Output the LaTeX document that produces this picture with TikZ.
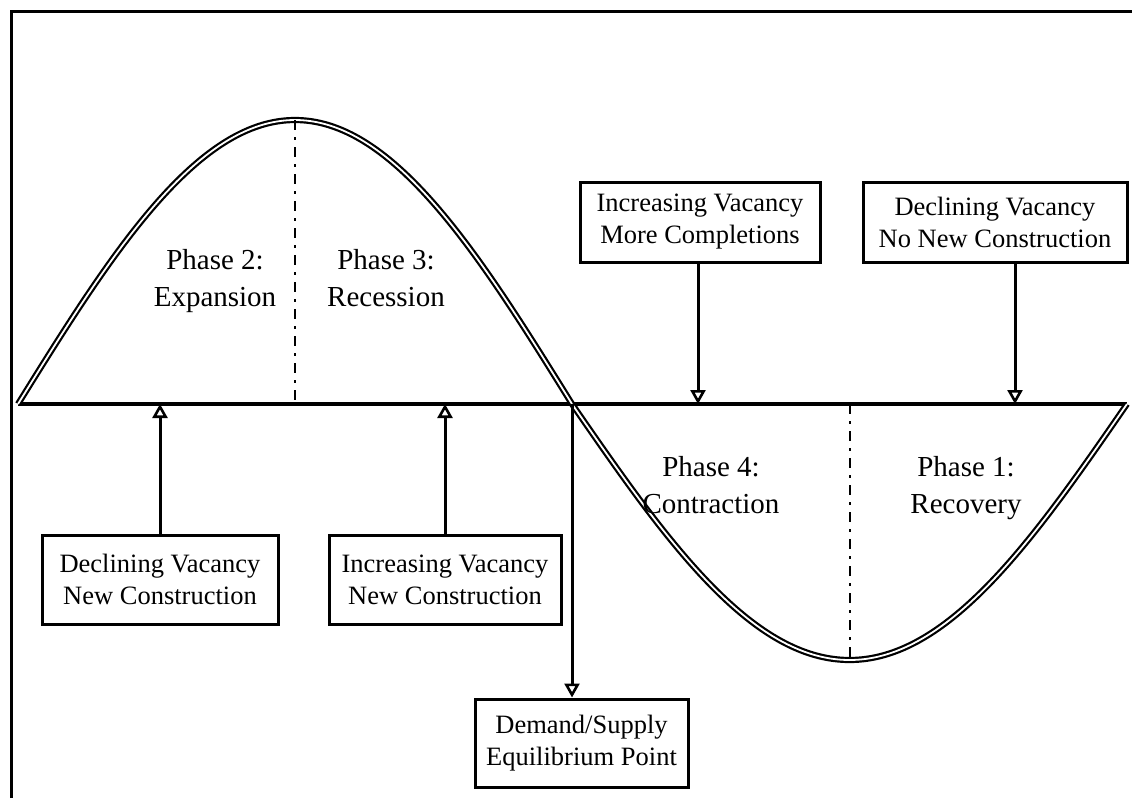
\documentclass[tikz,border=0pt]{standalone}
\usepackage{fontspec}
\setmainfont{Liberation Serif}
\usetikzlibrary{arrows.meta}
\begin{document}
\begin{tikzpicture}[x=1pt,y=-1pt,
  box/.style={draw,line width=3pt,align=center,inner sep=0pt,font=\fontsize{26.5}{32}\selectfont},
  phase/.style={align=center,anchor=north,inner sep=0pt,font=\fontsize{29}{37}\selectfont},
  arr/.style={line width=3pt,-{Triangle[open,length=14pt,width=15pt,line width=2.6pt]}},
  curve/.style={double=white,line width=2.2pt,double distance=1.8pt},
  divider/.style={line width=2.6pt,dash pattern=on 10pt off 7pt on 3pt off 7pt}]
\useasboundingbox (0,0) rectangle (1132,798);
% frame
\draw[line width=3pt] (11,798) -- (11,11) -- (1132,11);
% axis
\coordinate (a0) at (18,404);
\coordinate (a1) at (1127,404);
\coordinate (z) at (572,404);
\draw[line width=4.5pt] (a0) -- (a1);
% curve
\draw[curve] plot[domain=18:572,samples=120,smooth] (\x,{404-284*sin((\x-18)/554*180)});
\draw[curve] plot[domain=572:1127,samples=120,smooth] (\x,{404+256*sin((\x-572)/555*180)});
% dividers
\coordinate (p2) at (295,120);
\coordinate (p2b) at (295,404);
\coordinate (p4) at (850,660);
\coordinate (p4b) at (850,404);
\draw[divider] (p2) -- (p2b);
\draw[divider] (p4b) -- (p4);
% phase labels
\node[phase] (ph2) at (215,249) {Phase 2:\\Expansion};
\node[phase] (ph3) at (386,249) {Phase 3:\\Recession};
\node[phase] (ph4) at (711,456) {Phase 4:\\Contraction};
\node[phase] (ph1) at (966,456) {Phase 1:\\Recovery};
% boxes
\node[box,minimum width=236pt,minimum height=89pt] (b1) at (160,579.5) {Declining Vacancy\\New Construction};
\node[box,minimum width=232pt,minimum height=89pt] (b2) at (445,579.5) {Increasing Vacancy\\New Construction};
\node[box,minimum width=240pt,minimum height=80pt] (b3) at (700,222) {Increasing Vacancy\\More Completions};
\node[box,minimum width=264pt,minimum height=80pt] (b4) at (995,222) {Declining Vacancy\\No New Construction};
\node[box,minimum width=213pt,minimum height=88pt] (b5) at (581.5,743) {Demand/Supply\\Equilibrium Point};
% arrows
\coordinate (t1) at (160,404);
\coordinate (t2) at (445,404);
\coordinate (t3) at (698,404);
\coordinate (t4) at (1015,404);
\draw[arr] (b1.north) -- (t1);
\draw[arr] (b2.north) -- (t2);
\draw[arr] (b3.south -| t3) -- (t3);
\draw[arr] (b4.south -| t4) -- (t4);
\draw[arr] (z) -- (b5.north -| z);
\end{tikzpicture}
\end{document}
